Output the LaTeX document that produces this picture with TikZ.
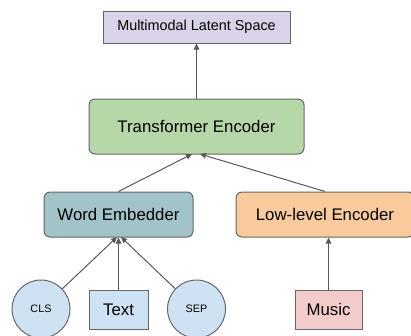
\documentclass[tikz,border=0pt]{standalone}
\usepackage{fontspec}
\setmainfont{Liberation Sans}
\usetikzlibrary{arrows.meta}
\definecolor{bordergray}{HTML}{666666}
\definecolor{arrowgray}{HTML}{595959}
\definecolor{lavender}{HTML}{D9D2E9}
\definecolor{greenfill}{HTML}{B6D7A8}
\definecolor{tealfill}{HTML}{A2C4C9}
\definecolor{orangefill}{HTML}{F9CB9C}
\definecolor{bluefill}{HTML}{CFE2F3}
\definecolor{pinkfill}{HTML}{F4CCCC}
\tikzset{
  box/.style={draw=bordergray, line width=1pt, inner sep=0pt, align=center},
  bigtext/.style={font=\fontsize{16.8}{18}\selectfont},
  rbox/.style={box, rounded corners=6pt},
  tok/.style={draw=bordergray, line width=1pt, circle, fill=bluefill, minimum size=58pt, inner sep=0pt, font=\fontsize{10.8}{12}\selectfont},
  conn/.style={draw=arrowgray, line width=1pt, -{Triangle[length=6pt,width=5.5pt]}}
}
\begin{document}
\begin{tikzpicture}[x=1pt, y=-1pt]
\useasboundingbox (0,0) rectangle (411,335);
\node[box, fill=lavender, minimum width=187pt, minimum height=32pt, font=\fontsize{14.4}{16}\selectfont] (mls) at (196.5,27) {Multimodal Latent Space};
\node[rbox, bigtext, fill=greenfill, minimum width=215pt, minimum height=55pt] (te) at (196.5,126.5) {Transformer Encoder};
\node[rbox, bigtext, fill=tealfill, minimum width=149pt, minimum height=45pt] (we) at (118.5,214.5) {Word Embedder};
\node[rbox, bigtext, fill=orangefill, minimum width=178pt, minimum height=45pt] (le) at (325,214.5) {Low-level Encoder};
\node[tok] (cls) at (41,309) {CLS};
\node[box, bigtext, fill=bluefill, minimum width=59pt, minimum height=39pt] (txt) at (118.5,309.5) {Text};
\node[tok] (sep) at (196.5,309) {SEP};
\node[box, bigtext, fill=pinkfill, minimum width=67pt, minimum height=39pt] (mus) at (328.5,309.5) {Music};
\coordinate (teL) at (192,154);
\coordinate (teR) at (200,154);
\coordinate (weL) at (117,237);
\coordinate (weR) at (121,237);
\draw[conn] (te.north) -- (mls.south);
\draw[conn] (we.north) -- (teL);
\draw[conn] (le.north) -- (teR);
\draw[conn] (cls) -- (weL);
\draw[conn] (txt.north) -- (we.south);
\draw[conn] (sep) -- (weR);
\draw[conn] (mus.north) -- (mus.north |- le.south);
\end{tikzpicture}
\end{document}
